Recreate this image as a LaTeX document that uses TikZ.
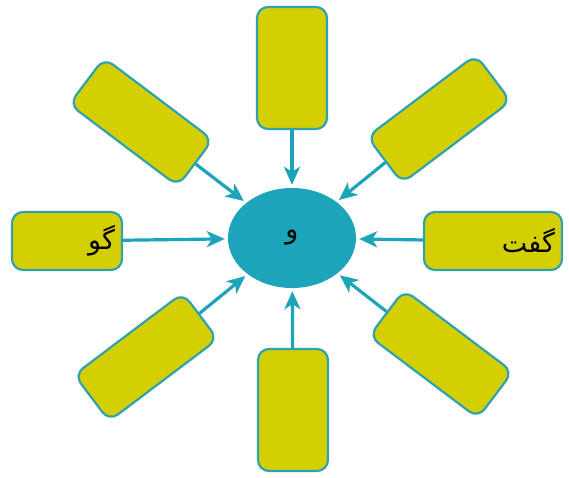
\documentclass[tikz,border=0pt]{standalone}
\usepackage{fontspec}
\newfontfamily\arabicfont[Script=Arabic]{DejaVu Sans}
\TeXXeTstate=1
\usepackage{tikz}
\usetikzlibrary{arrows.meta, shapes.geometric, positioning}
\definecolor{leaf}{HTML}{D4CF02}
\definecolor{rim}{HTML}{2FA2AE}
\definecolor{hubteal}{HTML}{1CA5BA}

\begin{document}
\begin{tikzpicture}[
            x=1pt, y=1pt,
            wordbox/.style={rectangle, draw=rim, line width=2.2pt, fill=leaf, rounded corners=11pt, minimum width=136pt, minimum height=58pt, inner sep=0pt},
            uprightbox/.style={wordbox, minimum width=70pt, minimum height=122pt},
            sidebox/.style={wordbox, inner sep=6pt, align=right, font=\arabicfont\fontsize{27}{30}\selectfont},
            hub/.style={ellipse, fill=hubteal, minimum width=128pt, minimum height=100pt, inner sep=0pt, font=\arabicfont\fontsize{27}{30}\selectfont},
            arrow/.style={-{Stealth[length=18pt, width=16pt, inset=5pt]}, line width=3.2pt, color=hubteal, shorten >=3pt}
        ]
        \useasboundingbox (0,0) rectangle (569,477);
        \node [hub] (hub) at (292,239) {\beginR و\endR};
        % upright and side boxes
        \node [uprightbox] (top) at (292,409) {};
        \node [uprightbox] (bottom) at (293,67) {};
        \node [sidebox, minimum width=110pt, text width=96pt] (left) at (67,236) {\beginR گو\endR};
        \node [sidebox, minimum width=138pt, text width=124pt] (right) at (493,236) {\beginR گفت\endR};
        % slanted boxes
        \node [wordbox, rotate=-37] (topleft) at (141,355) {};
        \node [wordbox, rotate=37] (topright) at (439,358) {};
        \node [wordbox, rotate=37] (bottomleft) at (146,120) {};
        \node [wordbox, rotate=-37] (bottomright) at (441,123) {};
        % arrows into the hub
        \foreach \b in {top, bottom, left, right, topleft, topright, bottomleft, bottomright}
            \draw [arrow] (\b) -- (hub);
    \end{tikzpicture}
\end{document}
